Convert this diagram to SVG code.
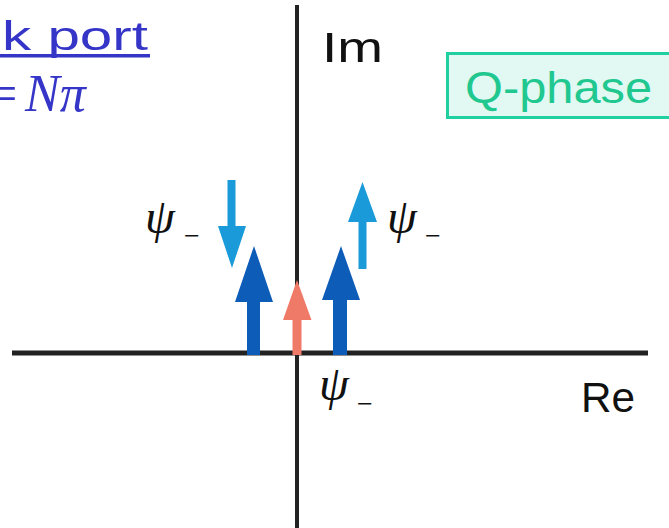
<svg xmlns="http://www.w3.org/2000/svg" width="669" height="528" viewBox="0 0 669 528">
<style>
.comic{font-family:"Comic Sans MS","Liberation Sans",sans-serif;}
.math{font-family:"Liberation Serif","DejaVu Serif",serif;font-style:italic;}
.psi{font-size:48px;fill:#111;}
.sub{font-size:28px;font-style:normal;}
.axis{stroke:#222;fill:none;}
.dark{fill:#0d5cb8;}
.light{fill:#1a9ad8;}
.salmon{fill:#f07a68;}
</style>
<rect width="669" height="528" fill="#fff"/>
<g id="title">
<text class="comic" x="2" y="50" font-size="40" fill="#3535c8" textLength="146" lengthAdjust="spacingAndGlyphs">k port</text>
<rect x="0" y="54" width="150" height="3.5" fill="#3535c8"/>
<text class="math" y="111" font-size="52" fill="#3535c8"><tspan x="-12" font-style="normal">=</tspan><tspan x="25">Nπ</tspan></text>
</g>
<g id="axes">
<line class="axis" x1="12" y1="353" x2="648" y2="353" stroke-width="5"/>
<line class="axis" x1="297" y1="5" x2="297" y2="528" stroke-width="4"/>
</g>
<g id="label-im"><text class="comic" x="322" y="62" font-size="42" fill="#111" textLength="61" lengthAdjust="spacingAndGlyphs">Im</text></g>
<g id="label-re"><text class="comic" x="581" y="412" font-size="42" fill="#111" textLength="54" lengthAdjust="spacingAndGlyphs">Re</text></g>
<g id="qphase">
<rect x="447.5" y="53.5" width="225" height="64" fill="#e2f8f2" stroke="#20d0a0" stroke-width="3"/>
<text class="comic" x="465" y="103" font-size="44" fill="#20c890" textLength="187" lengthAdjust="spacingAndGlyphs">Q-phase</text>
</g>
<g id="arrows">
<polygon id="arrow-light-left" class="light" points="227.5,180 235.5,180 235.5,226 246,226 232,268 218,226 227.5,226"/>
<polygon id="arrow-dark-left" class="dark" points="247,355 260,355 260,302 273,302 254,246 235,302 247,302"/>
<polygon id="arrow-salmon" class="salmon" points="292.5,355 301.5,355 301.5,320 311.5,320 297,280 283,320 292.5,320"/>
<polygon id="arrow-dark-right" class="dark" points="333,355 347,355 347,300 360,300 341,246 322,300 333,300"/>
<polygon id="arrow-light-right" class="light" points="358.5,269 366.5,269 366.5,222 377,222 362.5,182 348,222 358.5,222"/>
</g>
<g id="psi-labels">
<text class="math psi" x="145" y="233">ψ<tspan class="sub" x="184" y="245">−</tspan></text>
<text class="math psi" x="387" y="233">ψ<tspan class="sub" x="425" y="245">−</tspan></text>
<text class="math psi" x="319" y="400">ψ<tspan class="sub" x="357" y="413">−</tspan></text>
</g>
</svg>
